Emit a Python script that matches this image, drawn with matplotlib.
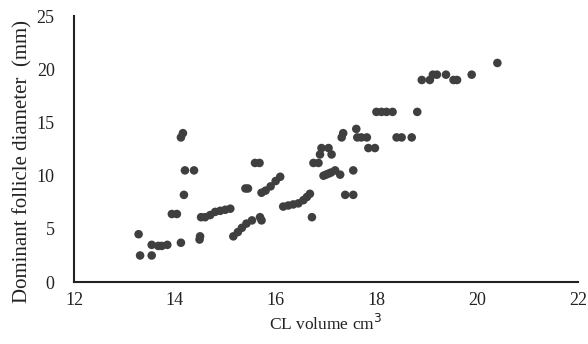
import matplotlib

matplotlib.use("Agg")
import matplotlib.pyplot as plt  # noqa: E402

# CL volume (cm3) vs dominant follicle diameter (mm)
cl_volume = [
    13.28, 13.31, 13.54, 13.54, 13.67, 13.74, 13.85, 14.12,
    13.94, 14.04, 14.18, 14.20, 14.38, 14.12, 14.16,
    14.49, 14.50,
    14.52, 14.60, 14.70, 14.80, 14.90, 15.00, 15.10,
    15.16, 15.25, 15.33, 15.42, 15.53, 15.69, 15.72,
    15.40, 15.45, 15.59, 15.68,
    15.72, 15.80, 15.90, 16.00, 16.09,
    16.15, 16.25, 16.35, 16.45, 16.55, 16.62, 16.68,
    16.72,
    16.75, 16.85, 16.88, 16.91, 17.05, 17.11,
    16.95, 17.00, 17.05, 17.10, 17.18, 17.28,
    17.54, 17.38, 17.54,
    17.31, 17.34, 17.60, 17.62, 17.70, 17.81,
    17.84, 17.97,
    18.00, 18.10, 18.20, 18.32,
    18.40, 18.50, 18.70, 18.81,
    18.90, 19.06, 19.12, 19.20, 19.38, 19.53, 19.60, 19.89, 20.40,
]
follicle_diam = [
    4.5, 2.5, 2.5, 3.5, 3.4, 3.4, 3.5, 3.7,
    6.4, 6.4, 8.2, 10.5, 10.5, 13.6, 14.0,
    4.0, 4.3,
    6.1, 6.1, 6.3, 6.6, 6.7, 6.8, 6.9,
    4.3, 4.7, 5.1, 5.5, 5.8, 6.1, 5.8,
    8.8, 8.8, 11.2, 11.2,
    8.4, 8.6, 9.0, 9.5, 9.9,
    7.1, 7.2, 7.3, 7.4, 7.7, 8.0, 8.3,
    6.1,
    11.2, 11.2, 12.0, 12.6, 12.6, 12.0,
    10.0, 10.1, 10.2, 10.3, 10.5, 10.1,
    10.5, 8.2, 8.2,
    13.6, 14.0, 14.4, 13.6, 13.6, 13.6,
    12.6, 12.6,
    16.0, 16.0, 16.0, 16.0,
    13.6, 13.6, 13.6, 16.0,
    19.0, 19.0, 19.5, 19.5, 19.5, 19.0, 19.0, 19.5, 20.6,
]

x_ticks = [12, 14, 16, 18, 20, 22]
y_ticks = [0, 5, 10, 15, 20, 25]

plt.rcParams["font.family"] = ["Liberation Serif", "DejaVu Serif"]

fig = plt.figure(figsize=(5.88, 3.44), dpi=100)
ax = fig.add_axes([0.126, 0.180, 0.857, 0.773])

ax.scatter(cl_volume, follicle_diam, s=38, color="#3f3f3f", edgecolors="none",
           zorder=3)

ax.set_xlim(12, 22)
ax.set_ylim(0, 25)
ax.set_xticks(x_ticks)
ax.set_yticks(y_ticks)
ax.tick_params(length=0, labelsize=13, colors="#222222")
ax.tick_params(axis="x", pad=7)
ax.tick_params(axis="y", pad=14)

for side in ("top", "right"):
    ax.spines[side].set_visible(False)
for side in ("left", "bottom"):
    ax.spines[side].set_linewidth(1.5)
    ax.spines[side].set_color("#222222")

ax.set_xlabel("CL volume cm$^3$", fontsize=12.5, labelpad=4, color="#222222")
ax.set_ylabel("Dominant follicle diameter  (mm)", fontsize=15, color="#222222")
ax.yaxis.set_label_coords(-0.082, 0.455)

fig.savefig("out.png", dpi=100)
